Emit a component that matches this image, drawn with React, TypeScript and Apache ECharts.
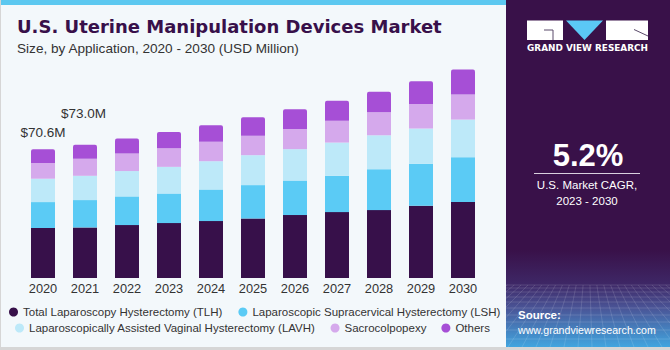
import React, { useEffect, useRef } from "react";
import * as echarts from "echarts";

const years = ["2020", "2021", "2022", "2023", "2024", "2025", "2026", "2027", "2028", "2029", "2030"];
const tlh = [27.4, 27.7, 29.0, 30.1, 31.2, 32.6, 34.5, 36.1, 37.2, 39.6, 41.6];
const lsh = [14.2, 15.0, 15.7, 16.2, 17.3, 18.3, 18.9, 19.9, 22.4, 23.0, 24.6];
const lavh = [12.8, 13.3, 13.9, 14.6, 15.5, 16.4, 17.2, 18.2, 18.6, 19.3, 20.6];
const sacro = [8.6, 9.3, 9.6, 10.2, 10.6, 10.7, 11.1, 12.0, 12.6, 13.5, 13.7];
const others = [7.6, 7.7, 8.2, 8.9, 9.1, 10.1, 10.8, 10.9, 11.3, 12.4, 13.7];
const totalLabels = ["$70.6M", "$73.0M"];
const seriesNames = [
  "Total Laparoscopy Hysterectomy (TLH)",
  "Laparoscopic Supracervical Hysterectomy (LSH)",
  "Laparoscopically Assisted Vaginal Hysterectomy (LAVH)",
  "Sacrocolpopexy",
  "Others",
];
const colors = ["#37104a", "#5bcbf5", "#bde9f9", "#d5a9ec", "#a64fd6"];

const FONT = "'Liberation Sans', Arial, sans-serif";

function meshLines() {
  const els: any[] = [];
  const x0 = 506, x1 = 670, yTop = 285, yBot = 347;
  const hs = [285, 288, 292, 297, 302, 308, 315, 322, 330, 339];
  hs.forEach((y) => {
    els.push({ type: "line", shape: { x1: x0, y1: y, x2: x1, y2: y }, style: { stroke: "rgba(255,255,255,0.2)", lineWidth: 0.7 }, silent: true });
  });
  const vx = 588, vy = 225;
  for (let bx = 340; bx <= 840; bx += 14) {
    const xAt = (y: number) => vx + (bx - vx) * (y - vy) / (yBot - vy);
    let ya = yTop, yb = yBot;
    let xa = xAt(ya), xb = xAt(yb);
    if (xb < x0) { yb = vy + (x0 - vx) * (yBot - vy) / (bx - vx); xb = x0; }
    if (xb > x1) { yb = vy + (x1 - vx) * (yBot - vy) / (bx - vx); xb = x1; }
    if (yb <= ya) continue;
    els.push({ type: "line", shape: { x1: xa, y1: ya, x2: xb, y2: yb }, style: { stroke: "rgba(255,255,255,0.18)", lineWidth: 0.7 }, silent: true });
  }
  return els;
}

export default function App() {
  const ref = useRef<HTMLDivElement>(null);
  useEffect(() => {
    if (!ref.current) return;
    const chart = echarts.init(ref.current, undefined, { renderer: "svg" });
    const seriesData = [tlh, lsh, lavh, sacro, others];
    const series = seriesData.map((arr, si) => ({
      name: seriesNames[si],
      type: "bar",
      stack: "total",
      barWidth: 24,
      itemStyle: { color: colors[si], borderRadius: si === 4 ? [2, 2, 0, 0] : 0 },
      data: arr.map((v, i) => {
        if (si === 4 && i < totalLabels.length) {
          return {
            value: v,
            label: {
              show: true,
              position: "top",
              formatter: () => totalLabels[i],
              offset: i === 0 ? [0, -4.5] : [-1.5, -19],
              fontSize: 13.5,
              fontFamily: FONT,
              color: "#333333",
            },
          };
        }
        return v;
      }),
    }));
    const legendText = { fontSize: 11.5, fontFamily: FONT, color: "#333333" };
    chart.setOption({
      animation: false,
      backgroundColor: "#f3f8fb",
      grid: { left: 22, right: 186, top: 59, bottom: 72, containLabel: false },
      xAxis: {
        type: "category",
        data: years,
        axisLine: { show: false },
        axisTick: { show: false },
        axisLabel: { margin: 4, fontSize: 12.8, fontFamily: FONT, color: "#333333" },
      },
      yAxis: { type: "value", min: 0, max: 120, show: false, splitLine: { show: false } },
      legend: [
        {
          data: seriesNames.slice(0, 2),
          left: 9, top: 306, padding: 0, itemWidth: 9, itemHeight: 9, itemGap: 16,
          icon: "circle", textStyle: legendText,
        },
        {
          data: seriesNames.slice(2),
          left: 15, top: 322, padding: 0, itemWidth: 9, itemHeight: 9, itemGap: 15,
          icon: "circle", textStyle: legendText,
        },
      ],
      series,
      graphic: [
        { type: "rect", shape: { x: 0, y: 0, width: 506, height: 5 }, style: { fill: "#5cc8f0" }, silent: true },
        { type: "rect", shape: { x: 0, y: 0, width: 1, height: 350 }, style: { fill: "#d6d6d6" }, silent: true },
        {
          type: "text", left: 17, top: 17,
          style: { text: "U.S. Uterine Manipulation Devices Market", font: "bold 18px 'DejaVu Sans', sans-serif", fill: "#38104a" },
        },
        {
          type: "text", left: 17, top: 41,
          style: { text: "Size, by Application, 2020 - 2030 (USD Million)", fontSize: 13.6, fontFamily: FONT, fill: "#333333" },
        },
        { type: "rect", shape: { x: 506, y: 0, width: 164, height: 347 }, style: { fill: "#391149" }, silent: true, z: 10 },
        {
          type: "rect", shape: { x: 506, y: 250, width: 164, height: 97 }, silent: true, z: 10,
          style: {
            fill: new echarts.graphic.LinearGradient(0, 0, 0, 1, [
              { offset: 0, color: "#391149" },
              { offset: 0.35, color: "#3e2766" },
              { offset: 0.6, color: "#4a5597" },
              { offset: 1, color: "#41a5df" },
            ]),
          },
        },
        ...meshLines().map((e) => ({ ...e, z: 11 })),
        { type: "rect", shape: { x: 0, y: 347, width: 670, height: 3 }, style: { fill: "#d6d6d6" }, silent: true, z: 12 },
        // logo
        { type: "rect", shape: { x: 527, y: 20.5, width: 36, height: 19.5 }, style: { fill: "#ffffff" }, z: 12 },
        { type: "polyline", shape: { points: [[544, 30], [553, 30], [553, 40]] }, style: { stroke: "#5a4a6a", lineWidth: 1, fill: "none" }, z: 13 },
        { type: "polygon", shape: { points: [[566, 20.5], [603, 20.5], [584.5, 40]] }, style: { fill: "#5bc8f5" }, z: 12 },
        { type: "rect", shape: { x: 606, y: 20.5, width: 42, height: 19.5 }, style: { fill: "#ffffff" }, z: 12 },
        { type: "polyline", shape: { points: [[634, 29.5], [648, 36]] }, style: { stroke: "#5a4a6a", lineWidth: 1, fill: "none" }, z: 13 },
        {
          type: "text", x: 587.5, y: 48, z: 12,
          style: { text: "GRAND VIEW RESEARCH", font: "bold 8.9px 'DejaVu Sans', sans-serif", fill: "#ffffff", align: "center", verticalAlign: "middle" },
        },
        {
          type: "text", x: 588, y: 155.5, z: 12,
          style: { text: "5.2%", font: "bold 31px 'Liberation Sans', Arial, sans-serif", fill: "#ffffff", align: "center", verticalAlign: "middle" },
        },
        { type: "line", shape: { x1: 534, y1: 173.5, x2: 640, y2: 173.5 }, style: { stroke: "#d8d0de", lineWidth: 1 }, z: 12 },
        {
          type: "text", x: 587, y: 185, z: 12,
          style: { text: "U.S. Market CAGR,", fontSize: 11.5, fontFamily: FONT, fill: "#ffffff", align: "center", verticalAlign: "middle" },
        },
        {
          type: "text", x: 587, y: 201, z: 12,
          style: { text: "2023 - 2030", fontSize: 11.5, fontFamily: FONT, fill: "#ffffff", align: "center", verticalAlign: "middle" },
        },
        {
          type: "text", x: 518, y: 315, z: 12,
          style: { text: "Source:", fontSize: 11.5, fontWeight: "bold", fontFamily: FONT, fill: "#ffffff", verticalAlign: "middle" },
        },
        {
          type: "text", x: 518, y: 330, z: 12,
          style: { text: "www.grandviewresearch.com", fontSize: 10.6, fontFamily: FONT, fill: "#ffffff", verticalAlign: "middle" },
        },
      ],
    });
    return () => chart.dispose();
  }, []);
  return <div ref={ref} style={{ position: "fixed", left: 0, top: 0, width: 670, height: 350 }} />;
}
